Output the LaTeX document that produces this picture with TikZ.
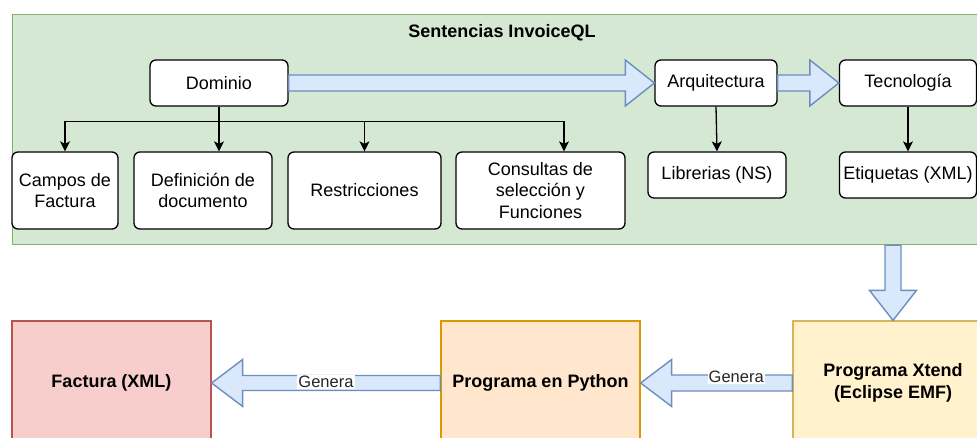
\documentclass[tikz,border=0pt]{standalone}
\usepackage{fontspec}
\setmainfont{Liberation Sans}
\usetikzlibrary{calc,arrows.meta}
\definecolor{grfill}{HTML}{D5E8D4}
\definecolor{grline}{HTML}{82B366}
\definecolor{blfill}{HTML}{DAE8FC}
\definecolor{blline}{HTML}{6C8EBF}
\definecolor{rdfill}{HTML}{F8CECC}
\definecolor{rdline}{HTML}{B85450}
\definecolor{orfill}{HTML}{FFE6CC}
\definecolor{orline}{HTML}{D79B00}
\definecolor{ylfill}{HTML}{FFF2CC}
\definecolor{ylline}{HTML}{D6B656}
\begin{document}
\begin{tikzpicture}[x=1pt,y=-1pt,
  txt/.style={font=\fontsize{18}{21.5}\selectfont},
  container/.style={draw=grline, fill=grfill, line width=1.3pt, inner sep=0pt},
  rbox/.style={txt, draw=black, fill=white, line width=1.3pt, rounded corners=6pt,
    align=center, inner sep=1pt, minimum height=46pt},
  sbox/.style={txt, font=\fontsize{18}{22}\selectfont\bfseries, line width=1.3pt,
    align=center, inner sep=1pt, minimum width=199pt, minimum height=124pt},
  conn/.style={draw=black, line width=1.3pt, -{Stealth[length=10pt,width=10pt,inset=2.5pt]}},
  blk/.style={draw=blline, fill=blfill, line width=1.4pt, line join=miter},
  lbl/.style={font=\fontsize{16.5}{18}\selectfont, fill=white, inner sep=1pt, text=black!85}
]
\useasboundingbox (0,0) rectangle (977,438);

% container
\node[container, anchor=north west, minimum width=985pt, minimum height=230pt] (cont) at (12,14) {};
\node[txt, font=\fontsize{18}{21.5}\selectfont\bfseries] (title) at (502,33) {Sentencias InvoiceQL};

% top row
\node[rbox, minimum width=138pt] (dom) at (219,83) {Dominio};
\node[rbox, minimum width=122pt] (arq) at (716,83) {Arquitectura};
\node[rbox, minimum width=137pt] (tec) at (908,83) {Tecnología};

% children
\node[rbox, minimum width=106pt, minimum height=77pt] (cam) at (65,190.5) {Campos de\\Factura};
\node[rbox, minimum width=138pt, minimum height=77pt] (def) at (203,190.5) {Definición de\\documento};
\node[rbox, minimum width=153pt, minimum height=77pt] (res) at (364.5,190.5) {Restricciones};
\node[rbox, minimum width=169pt, minimum height=77pt] (con) at (540.5,190.5) {Consultas de\\selección y\\Funciones};
\node[rbox, minimum width=138pt] (lib) at (717,175) {Librerias (NS)};
\node[rbox, minimum width=137pt] (eti) at (908,175) {Etiquetas (XML)};

% tree connectors
\coordinate (bus) at ($(dom.south)+(0,15)$);
\draw[conn] (dom.south) -- (bus) -| (cam.north);
\draw[conn] (dom.south) -- (dom.south |- def.north);
\draw[conn] (bus) -| (res.north);
\draw[conn] (bus) -| ($(con.north)+(23.5,0)$);
\draw[conn] (arq.south) -- (lib.north);
\draw[conn] (tec.south) -- (eti.north);

% block arrows top
\draw[blk] ($(dom.east)+(0,-8)$) -- ($(arq.west)+(-29,-8)$) -- ($(arq.west)+(-29,-23)$)
  -- (arq.west) -- ($(arq.west)+(-29,23)$) -- ($(arq.west)+(-29,8)$) -- ($(dom.east)+(0,8)$) -- cycle;
\draw[blk] ($(arq.east)+(0,-8)$) -- ($(tec.west)+(-29,-8)$) -- ($(tec.west)+(-29,-23)$)
  -- (tec.west) -- ($(tec.west)+(-29,23)$) -- ($(tec.west)+(-29,8)$) -- ($(arq.east)+(0,8)$) -- cycle;

% bottom boxes
\node[sbox, draw=rdline, fill=rdfill] (fac) at (111.5,383) {Factura (XML)};
\node[sbox, draw=orline, fill=orfill] (py) at (540.5,383) {Programa en Python};
\node[sbox, draw=ylline, fill=ylfill, minimum width=200pt] (xt) at (893,383) {Programa Xtend\\(Eclipse EMF)};

% down arrow
\coordinate (dtop) at (cont.south -| xt.north);
\draw[blk] ($(dtop)+(-8,0)$) -- ($(xt.north)+(-8,-30)$) -- ($(xt.north)+(-23.5,-30)$)
  -- (xt.north) -- ($(xt.north)+(23.5,-30)$) -- ($(xt.north)+(8,-30)$) -- ($(dtop)+(8,0)$) -- cycle;

% Genera arrows
\draw[blk] (fac.east) -- ($(fac.east)+(31,-23.5)$) -- ($(fac.east)+(31,-7.5)$)
  -- ($(py.west)+(0,-7.5)$) -- ($(py.west)+(0,7.5)$) -- ($(fac.east)+(31,7.5)$)
  -- ($(fac.east)+(31,23.5)$) -- cycle;
\draw[blk] (py.east) -- ($(py.east)+(31,-23.5)$) -- ($(py.east)+(31,-8)$)
  -- ($(xt.west)+(0,-8)$) -- ($(xt.west)+(0,8)$) -- ($(py.east)+(31,8)$)
  -- ($(py.east)+(31,23.5)$) -- cycle;
\node[lbl] (g1) at ($(fac.east)!0.5!(py.west)+(0,-1)$) {Genera};
\node[lbl] (g2) at ($(py.east)!0.63!(xt.west)+(0,-6)$) {Genera};
\end{tikzpicture}
\end{document}
